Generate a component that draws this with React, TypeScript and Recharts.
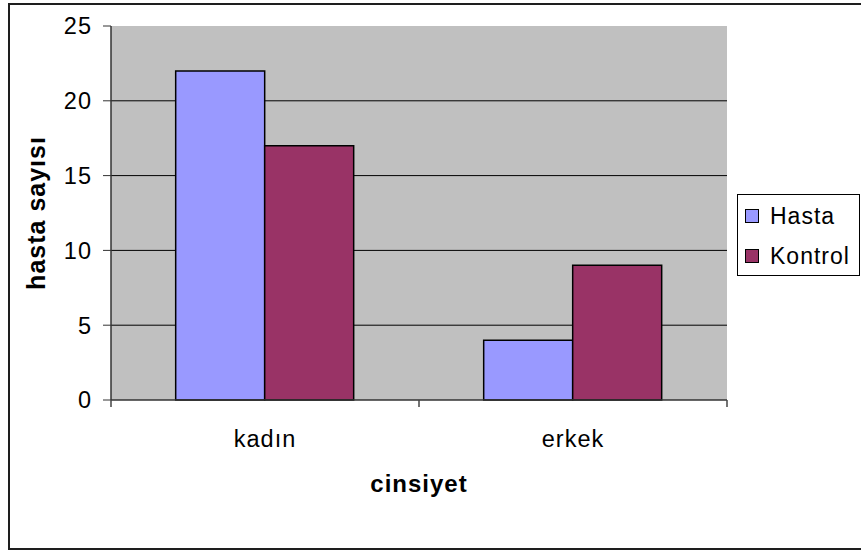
import { BarChart, Bar, XAxis, YAxis, CartesianGrid, Legend } from 'recharts';

const categories = ['kadın', 'erkek'];
const hasta = [22, 4];
const kontrol = [17, 9];
const yTicks = [0, 5, 10, 15, 20, 25];

const data = categories.map((c, i) => ({ cinsiyet: c, Hasta: hasta[i], Kontrol: kontrol[i] }));

const FONT = '"Liberation Sans", Arial, sans-serif';
const X_TICK_LEN = 7;
const X_TICK_GAP = 30;

// category label plus the short marks at the category boundaries
function CategoryTick({ x, y, payload, index, visibleTicksCount }: any) {
  const half = payload.offset || 0;
  const axisY = y - X_TICK_GAP;
  const line = (px: number) => (
    <line x1={px} x2={px} y1={axisY} y2={axisY + X_TICK_LEN} stroke="#444" strokeWidth={1.5} />
  );
  return (
    <g>
      {line(x - half)}
      {index === visibleTicksCount - 1 && line(x + half)}
      <text x={x} y={y} dy="0.71em" textAnchor="middle" fill="#000" fontSize={23.5}>
        {payload.value}
      </text>
    </g>
  );
}

function LegendBox({ payload }: any) {
  return (
    <div
      style={{
        boxSizing: 'border-box',
        width: 123,
        height: 82,
        border: '1px solid #000',
        background: '#fff',
        paddingTop: 1,
      }}
    >
      {(payload || []).map((p: any) => (
        <div key={p.value} style={{ display: 'flex', alignItems: 'center', height: 40, paddingLeft: 7 }}>
          <span
            style={{
              display: 'inline-block',
              boxSizing: 'border-box',
              width: 14,
              height: 14,
              border: '1px solid #000',
              background: p.color,
              marginRight: 11,
            }}
          />
          <span style={{ fontSize: 23, color: '#000', lineHeight: '23px' }}>{p.value}</span>
        </div>
      ))}
    </div>
  );
}

export default function App() {
  return (
    <div
      style={{
        position: 'absolute',
        left: 0,
        top: 0,
        width: 861,
        height: 551,
        overflow: 'hidden',
        background: '#fff',
        fontFamily: FONT,
        letterSpacing: 1,
      }}
    >
      <div
        style={{
          position: 'absolute',
          left: 8,
          top: 3,
          width: 880,
          height: 547,
          boxSizing: 'border-box',
          border: '2px solid #1e1e1e',
        }}
      />
      <BarChart
        width={861}
        height={551}
        data={data}
        margin={{ top: 26, right: 134, bottom: 91, left: 20 }}
        barCategoryGap="21%"
        barGap={0}
        style={{ position: 'absolute', left: 0, top: 0 }}
      >
        <CartesianGrid
          horizontal
          vertical={false}
          horizontalValues={[5, 10, 15, 20]}
          stroke="#000"
          fill="#c0c0c0"
          fillOpacity={1}
        />
        <XAxis xAxisId="edge" type="number" domain={[0, 2]} allowDataOverflow hide />
        <CartesianGrid
          xAxisId="edge"
          horizontal={false}
          vertical
          verticalValues={[2]}
          stroke="#808080"
          strokeWidth={1.5}
          fill="none"
        />
        <XAxis
          xAxisId="cat"
          dataKey="cinsiyet"
          height={60}
          tickLine={false}
          tickSize={8}
          tickMargin={X_TICK_GAP - 8}
          axisLine={{ stroke: '#333', strokeWidth: 1.5 }}
          tick={<CategoryTick />}
          interval={0}
          label={{
            value: 'cinsiyet',
            position: 'bottom',
            offset: 15,
            fill: '#000',
            fontSize: 24,
            fontWeight: 'bold',
          }}
        />
        <YAxis
          width={91}
          domain={[0, 25]}
          ticks={yTicks}
          interval={0}
          tickSize={8}
          tickMargin={11}
          tickLine={{ stroke: '#333' }}
          axisLine={{ stroke: '#333', strokeWidth: 1.5 }}
          tick={{ fill: '#000', fontSize: 23.5 }}
          label={{
            value: 'hasta sayısı',
            angle: -90,
            position: 'insideLeft',
            offset: 16,
            textAnchor: 'middle',
            fill: '#000',
            fontSize: 25,
            fontWeight: 'bold',
          }}
        />
        <Legend
          layout="horizontal"
          align="center"
          verticalAlign="middle"
          content={<LegendBox />}
          wrapperStyle={{ left: 737, top: 194, width: 123, height: 82 }}
        />
        <Bar xAxisId="cat" dataKey="Hasta" fill="#9999ff" stroke="#000" strokeWidth={1.5} isAnimationActive={false} />
        <Bar xAxisId="cat" dataKey="Kontrol" fill="#993366" stroke="#000" strokeWidth={1.5} isAnimationActive={false} />
      </BarChart>
    </div>
  );
}
